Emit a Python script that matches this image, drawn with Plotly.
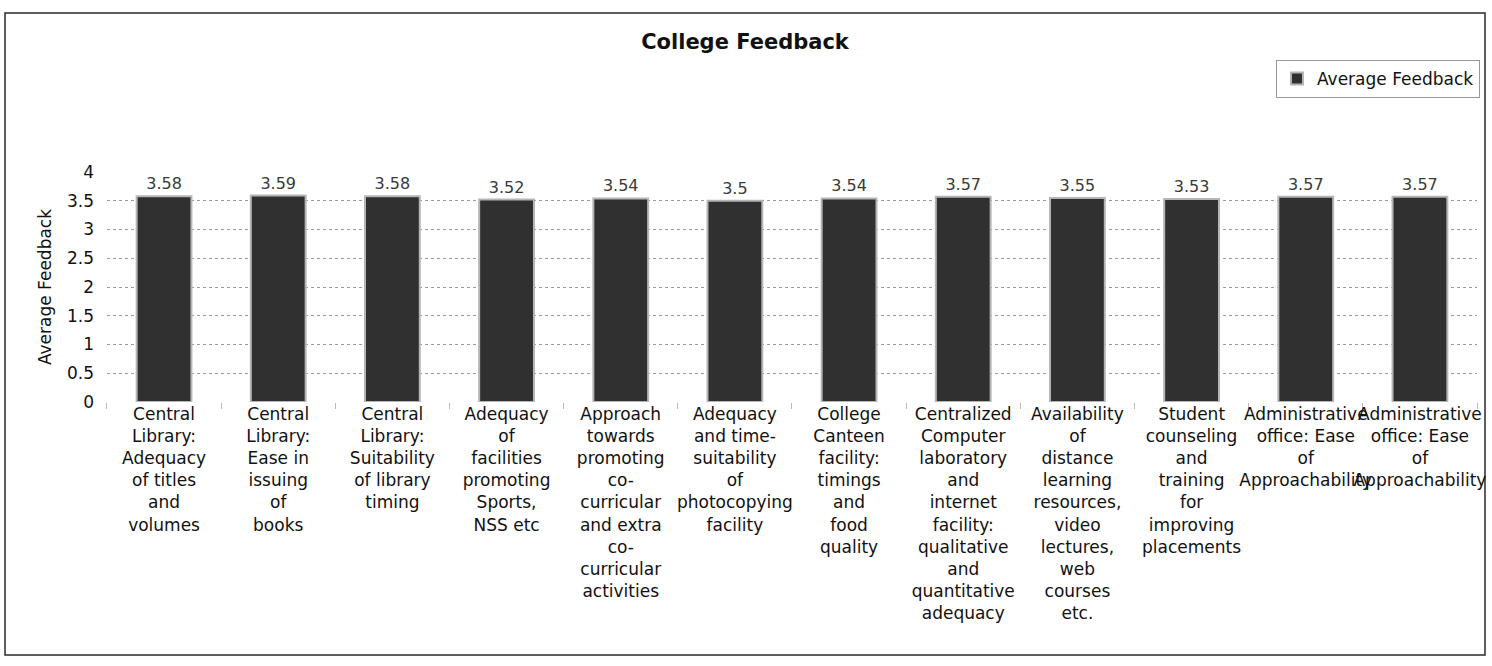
import plotly.graph_objects as go

categories = [
    "Central<br>Library:<br>Adequacy<br>of titles<br>and<br>volumes",
    "Central<br>Library:<br>Ease in<br>issuing<br>of<br>books",
    "Central<br>Library:<br>Suitability<br>of library<br>timing",
    "Adequacy<br>of<br>facilities<br>promoting<br>Sports,<br>NSS etc",
    "Approach<br>towards<br>promoting<br>co-<br>curricular<br>and extra<br>co-<br>curricular<br>activities",
    "Adequacy<br>and time-<br>suitability<br>of<br>photocopying<br>facility",
    "College<br>Canteen<br>facility:<br>timings<br>and<br>food<br>quality",
    "Centralized<br>Computer<br>laboratory<br>and<br>internet<br>facility:<br>qualitative<br>and<br>quantitative<br>adequacy",
    "Availability<br>of<br>distance<br>learning<br>resources,<br>video<br>lectures,<br>web<br>courses<br>etc.",
    "Student<br>counseling<br>and<br>training<br>for<br>improving<br>placements",
    "Administrative<br>office: Ease<br>of<br>Approachability",
    "Administrative<br>office: Ease<br>of<br>Approachability",
]
values = [3.58, 3.59, 3.58, 3.52, 3.54, 3.5, 3.54, 3.57, 3.55, 3.53, 3.57, 3.57]
value_labels = ["3.58", "3.59", "3.58", "3.52", "3.54", "3.5", "3.54", "3.57", "3.55", "3.53", "3.57", "3.57"]
y_ticks = [0, 0.5, 1, 1.5, 2, 2.5, 3, 3.5, 4]
y_tick_text = ["0", "0.5", "1", "1.5", "2", "2.5", "3", "3.5", "4"]

positions = list(range(len(categories)))
FONT = "DejaVu Sans, Verdana, sans-serif"

fig = go.Figure()
fig.add_trace(go.Bar(
    x=positions,
    y=values,
    name="Average Feedback",
    width=0.48,
    marker=dict(color="#303030", line=dict(color="#b5b5b5", width=2)),
    text=value_labels,
    textposition="outside",
    textfont=dict(family=FONT, size=16, color="#3a3a3a"),
    cliponaxis=False,
    showlegend=True,
))

fig.update_layout(
    width=1492,
    height=666,
    paper_bgcolor="white",
    plot_bgcolor="white",
    margin=dict(l=5, r=7, t=13, b=11, autoexpand=False),
    title=dict(
        text="<b>College Feedback</b>",
        x=0.5, xanchor="center",
        xref="paper",
        y=0.937, yanchor="middle", yref="container",
        font=dict(family=FONT, size=21, color="#111111"),
    ),
    font=dict(family=FONT, size=17, color="#111111"),
    legend=dict(
        x=0.9966, xanchor="right",
        y=0.927, yanchor="top",
        bordercolor="#999999",
        borderwidth=1,
        bgcolor="white",
        font=dict(family=FONT, size=17, color="#111111"),
    ),
    xaxis=dict(
        domain=[0.0689, 0.9946],
        tickmode="array",
        tickvals=positions,
        ticktext=categories,
        tickangle=0,
        range=[-0.5, len(categories) - 0.5],
        showgrid=False,
        zeroline=False,
        showline=False,
        ticks="",
        automargin=False,
        tickfont=dict(family=FONT, size=17, color="#111111"),
        minor=dict(ticks="outside", tick0=0.5, dtick=1, ticklen=6, tickcolor="#bbbbbb", showgrid=False),
    ),
    yaxis=dict(
        domain=[0.394, 0.7523],
        title=dict(text="Average Feedback", font=dict(family=FONT, size=17, color="#111111"), standoff=10),
        range=[0, 4.0],
        tickmode="array",
        tickvals=y_ticks,
        ticktext=y_tick_text,
        showgrid=True,
        gridcolor="#9a9a9a",
        griddash="dot",
        gridwidth=1,
        zeroline=False,
        showline=False,
        automargin=False,
        ticklabelstandoff=12,
        tickfont=dict(family=FONT, size=17, color="#111111"),
    ),
    shapes=[dict(
        type="rect",
        xref="paper", yref="paper",
        x0=0, x1=1, y0=0, y1=1,
        line=dict(color="#2a2a2a", width=1.5),
        fillcolor="rgba(0,0,0,0)",
        layer="below",
    )],
)

fig.write_html(
    "out.html",
    config={"displayModeBar": False},
    post_script="document.body.style.margin='0';document.body.style.overflow='hidden';",
)
